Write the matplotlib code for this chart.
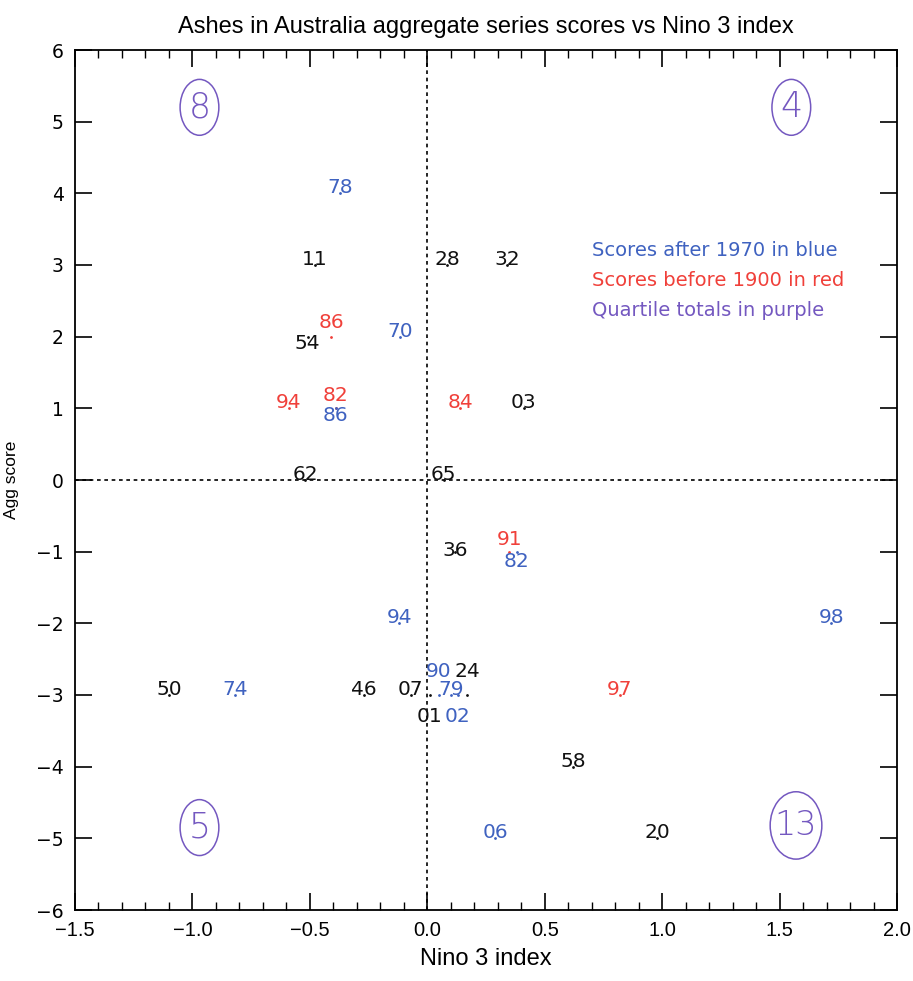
import matplotlib
matplotlib.use("Agg")
import matplotlib.pyplot as plt
from matplotlib.patches import Ellipse
from matplotlib.ticker import MultipleLocator

# ---- data ----
labels = ['78', '11', '28', '32', '86', '54', '70', '94', '82', '86', '84', '03',
          '62', '65', '36', '91', '82', '94', '98', '90', '24', '50', '74', '46',
          '07', '79', '97', '01', '02', '58', '06', '20']
nino = [-0.37, -0.48, 0.085, 0.34, -0.41, -0.51, -0.115, -0.59, -0.39, -0.39, 0.14, 0.41,
        -0.52, 0.07, 0.12, 0.35, 0.38, -0.12, 1.72, 0.05, 0.17, -1.10, -0.82, -0.27,
        -0.07, 0.10, 0.82, 0.01, 0.13, 0.62, 0.29, 0.98]
agg = [4, 3, 3, 3, 2, 2, 2, 1, 1, 1, 1, 1,
       0, 0, -1, -1, -1, -2, -2, -3, -3, -3, -3, -3,
       -3, -3, -3, -3, -3, -4, -5, -5]
era = ['after', 'mid', 'mid', 'mid', 'before', 'mid', 'after', 'before', 'before', 'after', 'before', 'mid',
       'mid', 'mid', 'mid', 'before', 'after', 'after', 'after', 'after', 'mid', 'mid', 'after', 'mid',
       'mid', 'after', 'before', 'mid', 'after', 'mid', 'after', 'mid']

quartile_totals = ['8', '4', '5', '13']
quartile_x = [-0.97, 1.55, -0.97, 1.57]
quartile_y = [5.2, 5.2, -4.85, -4.82]

legend_lines = ['Scores after 1970 in blue', 'Scores before 1900 in red', 'Quartile totals in purple']

# ---- styles ----
BLUE = '#3f62c0'
RED = '#f0403a'
PURPLE = '#7458c0'
colmap = {'after': BLUE, 'before': RED, 'mid': '#111111'}
# label vertical nudges (pixels) to avoid overlap
nudge_px = {4: 9, 5: -12, 8: 7, 9: -13, 15: 7, 16: -15, 19: 18, 20: 18, 27: -27, 28: -27, 14: -4}

plt.rcParams['font.family'] = ['DejaVu Sans']
fig = plt.figure(figsize=(9.13, 9.81), dpi=100)
ax = fig.add_axes([75/913, 71/981, 822/913, 860/981])
ax.set_xlim(-1.5, 2.0)
ax.set_ylim(-6, 6)

ax.axvline(0, color='black', lw=1.2, ls=(0, (2.2, 2.2)), zorder=1)
ax.axhline(0, color='black', lw=1.2, ls=(0, (2.2, 2.2)), zorder=1)

for i, (lab, x, y, e) in enumerate(zip(labels, nino, agg, era)):
    c = colmap[e]
    ax.plot([x], [y], marker='.', ms=2.0, color=c, ls='none', zorder=2)
    dy = nudge_px.get(i, 0) * 0.72
    ax.annotate(lab, (x, y), xytext=(0, dy), textcoords='offset points',
                ha='center', va='baseline', fontsize=14.5, color=c,
                fontweight='normal', zorder=3)

for t, x, y in zip(quartile_totals, quartile_x, quartile_y):
    w = 0.165 if len(t) == 1 else 0.22
    h = 0.78 if len(t) == 1 else 0.94
    ax.add_patch(Ellipse((x, y), w, h, fill=False, ec=PURPLE, lw=1.1))
    ax.text(x, y, t, ha='center', va='center', fontsize=25 if len(t) == 1 else 24,
            color=PURPLE, fontweight='light')

leg_cols = [BLUE, RED, PURPLE]
for k, (t, c) in enumerate(zip(legend_lines, leg_cols)):
    ax.text(0.7, 3.2 - k * 0.415, t, ha='left', va='center', fontsize=14,
            color=c, fontweight='normal')

ax.xaxis.set_major_locator(MultipleLocator(0.5))
ax.xaxis.set_minor_locator(MultipleLocator(0.1))
ax.yaxis.set_major_locator(MultipleLocator(1))
ax.tick_params(axis='both', which='major', direction='in', length=12.5, width=1.2,
               top=True, right=True)
ax.tick_params(axis='x', which='minor', direction='in', length=6, width=1.0,
               top=True, bottom=True)
ax.tick_params(axis='x', labelsize=14, pad=8)
ax.tick_params(axis='y', labelsize=13, pad=8)
ax.set_xticks([-1.5, -1.0, -0.5, 0.0, 0.5, 1.0, 1.5, 2.0])
ax.set_xticklabels(['\u22121.5', '\u22121.0', '\u22120.5', '0.0', '0.5', '1.0', '1.5', '2.0'],
                   fontfamily='Liberation Sans', fontsize=14.5)
ax.set_yticks(range(-6, 7))
ax.set_yticklabels([('\u2212' + str(-v)) if v < 0 else str(v) for v in range(-6, 7)],
                   fontsize=13.5)
for s in ax.spines.values():
    s.set_linewidth(1.3)

ax.set_xlabel('Nino 3 index', fontfamily='Liberation Sans', fontsize=17, labelpad=6)
ax.set_ylabel('Agg score', fontfamily='Liberation Sans', fontsize=12.5, labelpad=12)
ax.set_title('Ashes in Australia aggregate series scores vs Nino 3 index',
             fontfamily='Liberation Sans', fontsize=17, pad=12)

fig.savefig('out.png', dpi=100)
